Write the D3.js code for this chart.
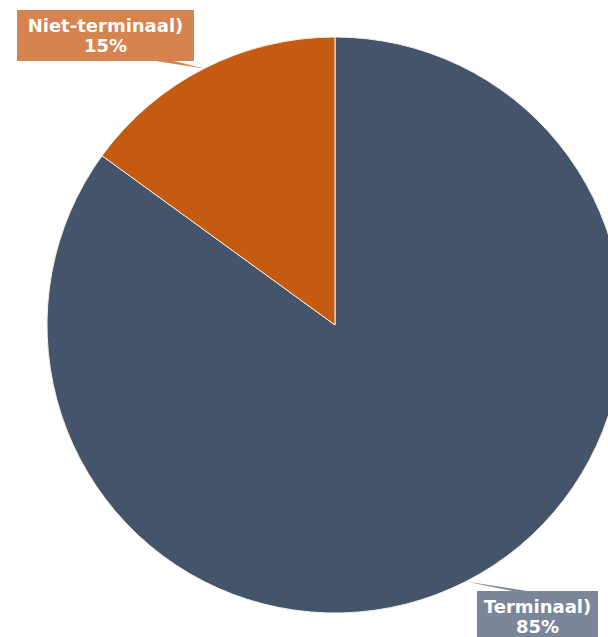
<!DOCTYPE html>
<html>
<head>
<meta charset="utf-8">
<script src="https://cdn.jsdelivr.net/npm/d3@7"></script>
<style>
  html, body { margin: 0; padding: 0; background: #fff; overflow: hidden; }
  svg { display: block; }
  .lbl { font-family: "DejaVu Sans", Verdana, sans-serif; font-weight: bold; font-size: 18px; fill: #fff; }
</style>
</head>
<body>
<svg id="chart" width="608" height="637"></svg>
<script>
// Share of cases per category
const categories = ["Terminaal)", "Niet-terminaal)"];
const values = [85, 15];
const sliceColors = ["#44546a", "#c55a11"];
const labelColors = ["#7b8699", "#d5834f"];

const width = 608, height = 637;
const cx = 335, cy = 325, radius = 288;

const svg = d3.select("#chart");
const g = svg.append("g").attr("transform", `translate(${cx},${cy})`);

const pie = d3.pie().sort(null).value(d => d.value);
const data = categories.map((c, i) => ({ name: c, value: values[i], idx: i }));
const arcs = pie(data);
const total = d3.sum(values);

const arc = d3.arc().innerRadius(0).outerRadius(radius);

g.selectAll("path.slice")
  .data(arcs)
  .join("path")
  .attr("class", "slice")
  .attr("d", arc)
  .attr("fill", d => sliceColors[d.data.idx])
  .attr("stroke", "#f4ece4")
  .attr("stroke-width", 1);

// Callout boxes: box placement relative to the slice's outer midpoint
const callouts = [
  { box: { x: 477, y: 591, w: 121, h: 52 }, base: [515, 531] },
  { box: { x: 17, y: 10, w: 177, h: 51 }, base: [152, 172] }
];

const lg = svg.append("g");
arcs.forEach(a => {
  const i = a.data.idx;
  const mid = (a.startAngle + a.endAngle) / 2;
  const tip = [cx + radius * Math.sin(mid), cy - radius * Math.cos(mid)];
  const c = callouts[i];
  const b = c.box;
  const edgeY = tip[1] < b.y ? b.y + 0.5 : b.y + b.h - 0.5;
  lg.append("path")
    .attr("d", d3.line()([tip, [c.base[0], edgeY], [c.base[1], edgeY]]) + "Z")
    .attr("fill", labelColors[i]);
  lg.append("rect")
    .attr("x", b.x).attr("y", b.y).attr("width", b.w).attr("height", b.h)
    .attr("fill", labelColors[i]);
  const pct = Math.round(a.data.value / total * 100) + "%";
  const t = lg.append("text").attr("class", "lbl").attr("text-anchor", "middle");
  t.append("tspan").attr("x", b.x + b.w / 2).attr("y", b.y + 22).text(a.data.name);
  t.append("tspan").attr("x", b.x + b.w / 2).attr("y", b.y + 42).text(pct);
});
</script>
</body>
</html>
